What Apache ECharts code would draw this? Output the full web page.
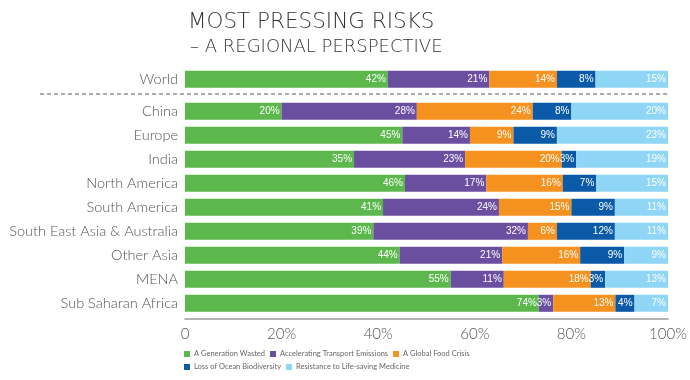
<!DOCTYPE html>
<html>
<head>
<meta charset="utf-8">
<script src="https://cdn.jsdelivr.net/npm/echarts@6/dist/echarts.min.js"></script>
<style>html,body{margin:0;padding:0;background:#fff}#c{width:690px;height:380px}</style>
</head>
<body>
<div id="c"></div>
<script>
const worldCategory = ['World'];
const regionCategories = ['China','Europe','India','North America','South America','South East Asia & Australia','Other Asia','MENA','Sub Saharan Africa'];
const seriesNames = ['A Generation Wasted','Accelerating Transport Emissions','A Global Food Crisis','Loss of Ocean Biodiversity','Resistance to Life-saving Medicine'];
const colors = ['#5cb84c','#6a4fa0','#f5921f','#0a5aa8','#8fd5f5'];
// World row
const worldValues = [[42],[21],[14],[8],[15]];
// Regions rows, one array per series (ordered like regionCategories)
const generationWasted     = [20,45,35,46,41,39,44,55,74];
const transportEmissions   = [28,14,23,17,24,32,21,11,3];
const foodCrisis           = [24, 9,20,16,15, 6,16,18,13];
const oceanBiodiversity    = [ 8, 9, 3, 7, 9,12, 9, 3, 4];
const lifeSavingMedicine   = [20,23,19,15,11,11, 9,13, 7];
const regionValues = [generationWasted, transportEmissions, foodCrisis, oceanBiodiversity, lifeSavingMedicine];
const xTicks = [0,20,40,60,80,100];

function normalize(rows){
  const n = rows[0].length;
  const sums = [];
  for(let i=0;i<n;i++){let s=0;rows.forEach(r=>s+=r[i]);sums.push(s);}
  return rows.map(r=>r.map((v,i)=>({value:v*100/sums[i], label:v})));
}
const worldN = normalize(worldValues);
const regionN = normalize(regionValues);

const labelStyle = {
  show:true, position:'insideRight', distance:2, color:'#fff', fontSize:10,
  fontFamily:'Liberation Sans, Arial, sans-serif',
  formatter: p => p.data.label + '%'
};
const series = [];
seriesNames.forEach((name,i)=>{
  series.push({name, type:'bar', stack:'w', xAxisIndex:0, yAxisIndex:0, barWidth:17,
    itemStyle:{color:colors[i]}, label:labelStyle, data:worldN[i]});
  series.push({name, type:'bar', stack:'r', xAxisIndex:1, yAxisIndex:1, barWidth:17,
    itemStyle:{color:colors[i]}, label:labelStyle, data:regionN[i]});
});

const yLabel = {color:'#555', fontSize:14.5, fontWeight:300, fontFamily:'Lato, sans-serif', margin:7};
const chart = echarts.init(document.getElementById('c'));
chart.setOption({
  animation:false,
  title:[
    {text:'MOST PRESSING RISKS', left:183, top:6, textStyle:{fontFamily:'DejaVu Sans', fontWeight:200, fontSize:21.5, color:'#333'}},
    {text:'– A REGIONAL PERSPECTIVE', left:185, top:33, textStyle:{fontFamily:'DejaVu Sans', fontWeight:200, fontSize:18, color:'#333'}}
  ],
  legend:{
    left:179, top:345, width:320, itemWidth:6, itemHeight:6, itemGap:5, icon:'rect',
    textStyle:{fontSize:7.5, color:'#666', fontFamily:'Lato, sans-serif', padding:[0,0,0,-1]},
    data:seriesNames
  },
  grid:[
    {left:185, right:22, top:67.3, height:24},
    {left:185, right:22, top:99.3, height:216}
  ],
  xAxis:[
    {gridIndex:0, type:'value', min:0, max:100, show:false},
    {gridIndex:1, type:'value', min:0, max:100, interval:20, offset:3,
     axisLine:{show:true, lineStyle:{color:'#999', width:1.5}}, axisTick:{show:false}, splitLine:{show:false},
     axisLabel:{color:'#555', fontSize:15, fontWeight:300, fontFamily:'Lato, sans-serif', margin:8,
       formatter: v => xTicks.indexOf(v)>=0 ? (v===0 ? '0' : v+'%') : ''}}
  ],
  yAxis:[
    {gridIndex:0, type:'category', inverse:true, data:worldCategory, axisLine:{show:false}, axisTick:{show:false}, axisLabel:yLabel},
    {gridIndex:1, type:'category', inverse:true, data:regionCategories, axisLine:{show:false}, axisTick:{show:false}, axisLabel:yLabel}
  ],
  graphic:[{type:'line', shape:{x1:40,y1:94,x2:668,y2:94}, style:{stroke:'#aaa', lineWidth:2, lineDash:[4,3]}}],
  series
});
</script>
</body>
</html>
